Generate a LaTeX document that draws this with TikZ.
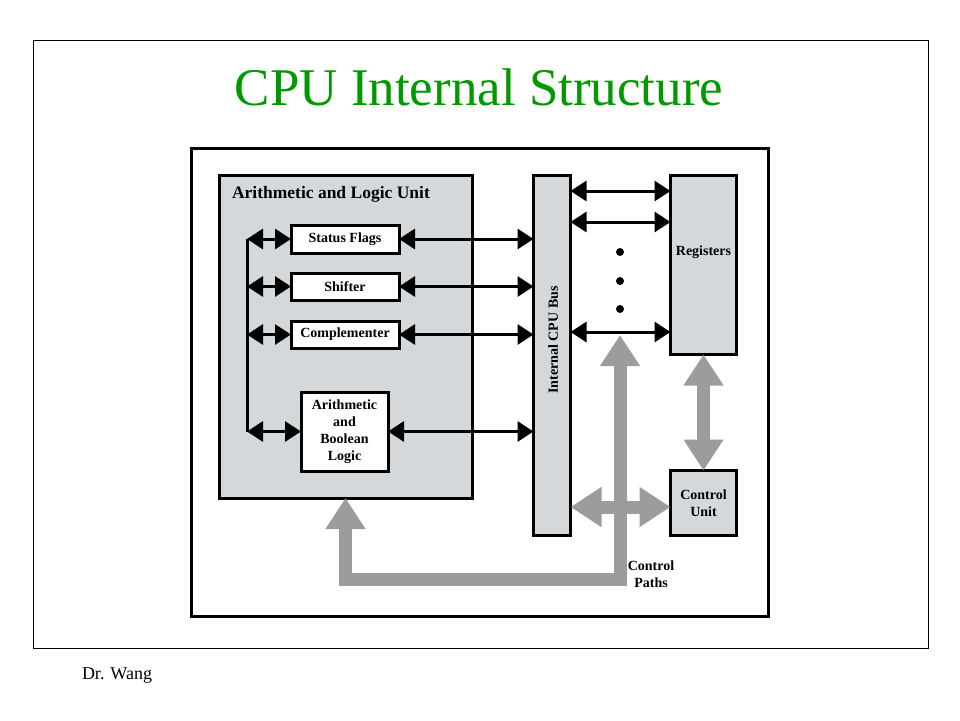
\documentclass[tikz,border=0pt]{standalone}
\usepackage{fontspec}
\setmainfont{Liberation Serif}
\usetikzlibrary{arrows.meta,calc}
\definecolor{titlegreen}{RGB}{0,153,0}
\definecolor{boxgray}{RGB}{212,216,218}
\definecolor{arrowgray}{RGB}{156,156,156}
\begin{document}
\begin{tikzpicture}[x=1pt,y=-1pt,
  every node/.style={inner sep=0pt, outer sep=0pt},
  graybox/.style={draw=black, line width=3pt, fill=boxgray, font=\fontsize{14}{17}\selectfont\bfseries, align=center},
  whitebox/.style={draw=black, line width=3pt, fill=white, font=\fontsize{14}{17}\selectfont\bfseries, align=center},
  barrow/.style={line width=3pt, {Triangle[length=16pt,width=20pt]}-{Triangle[length=16pt,width=20pt]}},
  garrow/.style={draw=arrowgray, line width=13pt, line join=miter, {Triangle[length=31pt,width=38pt]}-{Triangle[length=31pt,width=38pt]}},
  lbl/.style={font=\fontsize{14}{16.5}\selectfont\bfseries, align=center}
]
\useasboundingbox (0,0) rectangle (960,720);
\fill[white] (0,0) rectangle (960,720);
% frames
\draw[line width=1pt] (33,40) rectangle (928,648);
\draw[line width=3pt] (191,148) rectangle (768,616);
% title and footer
\node[anchor=base, text=titlegreen, font=\fontsize{53}{53}\selectfont] (title) at (479,105) {CPU Internal Structure};
\node[anchor=base west, font=\fontsize{18}{18}\selectfont] (author) at (82,679) {Dr. Wang};
% ALU
\node[graybox, minimum width=253pt, minimum height=323pt] (alu) at (345.5,336.5) {};
\node[anchor=base west, font=\fontsize{17.5}{18}\selectfont\bfseries] (alutitle) at (232,198) {Arithmetic and Logic Unit};
\node[whitebox, minimum width=108pt, minimum height=28pt] (sf) at (345,239) {Status Flags};
\node[whitebox, minimum width=108pt, minimum height=27pt] (sh) at (345,286.5) {Shifter};
\node[whitebox, minimum width=108pt, minimum height=27pt] (cp) at (345,334.5) {Complementer};
\node[whitebox, minimum width=87pt, minimum height=79pt] (abl) at (344.5,431.5) {Arithmetic\\and\\Boolean\\Logic};
% bus, registers, control unit
\node[graybox, minimum width=37pt, minimum height=360pt] (bus) at (552,355) {};
\node[lbl, rotate=90] (buslbl) at (553,340) {Internal CPU Bus};
\node[graybox, minimum width=66pt, minimum height=179pt] (reg) at (703.5,265) {};
\node[lbl] (reglbl) at (703.5,252) {Registers};
\node[graybox, minimum width=66pt, minimum height=65pt] (cu) at (703.5,503) {Control\\Unit};
\node[lbl] (cplbl) at (651,574) {Control\\Paths};
% left internal bus of ALU
\coordinate (l1) at (247,239);
\coordinate (l2) at (247,286.5);
\coordinate (l3) at (247,334.5);
\coordinate (l4) at (247,431.5);
\draw[line width=3pt] (l1) -- (l4);
\draw[barrow] (l1) -- (sf.west);
\draw[barrow] (l2) -- (sh.west);
\draw[barrow] (l3) -- (cp.west);
\draw[barrow] (l4) -- (abl.west);
% to CPU bus
\draw[barrow] (sf.east) -- (sf.east -| bus.west);
\draw[barrow] (sh.east) -- (sh.east -| bus.west);
\draw[barrow] (cp.east) -- (cp.east -| bus.west);
\draw[barrow] (abl.east) -- (abl.east -| bus.west);
% bus to registers
\coordinate (r1) at (0,191);
\coordinate (r2) at (0,222);
\coordinate (r3) at (0,332);
\draw[barrow] (bus.east |- r1) -- (reg.west |- r1);
\draw[barrow] (bus.east |- r2) -- (reg.west |- r2);
\draw[barrow] (bus.east |- r3) -- (reg.west |- r3);
\fill (620,252) circle (4pt);
\fill (620,281) circle (4pt);
\fill (620,309) circle (4pt);
% gray control arrows
\coordinate (hy) at (0,507);
\coordinate (cpbend) at (620,579);
\coordinate (cptip) at (620,335);
\draw[garrow] (alu.south) |- (cpbend) -- (cptip);
\draw[garrow] (reg.south) -- (cu.north);
\draw[garrow] (bus.east |- hy) -- (cu.west |- hy);
\end{tikzpicture}
\end{document}
